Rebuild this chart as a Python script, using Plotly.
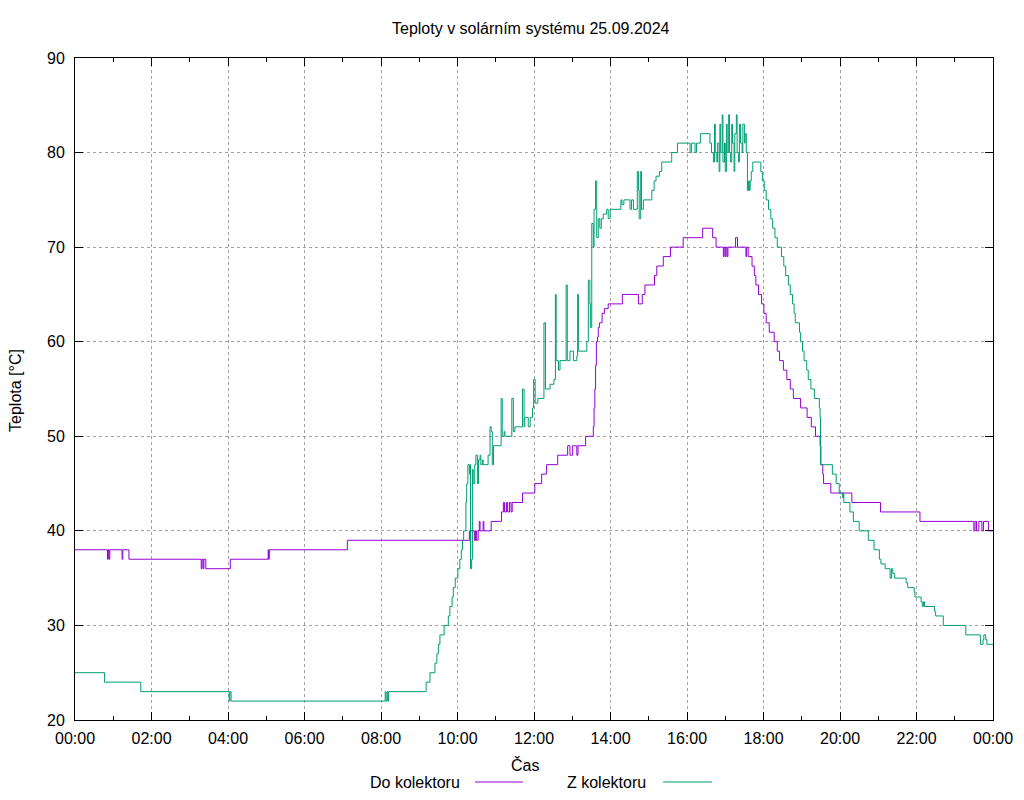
import pandas as pd
import plotly.graph_objects as go

# ---- data (decimal hour of change, temperature after change) ----
do_hours = [0, 0.85, 0.87, 0.89, 0.91, 1.23, 1.25, 1.41, 3.30, 3.32, 3.35, 3.37, 3.42, 4.06,
            5.05, 5.06, 5.08, 7.12, 10.31, 10.44, 10.47, 10.50, 10.54, 10.57, 10.59, 10.67,
            10.69, 10.88, 11.15, 11.20, 11.23, 11.28, 11.31, 11.36, 11.40, 11.43, 11.70, 12.02,
            12.20, 12.33, 12.62, 12.88, 12.94, 13.01, 13.12, 13.15, 13.35, 13.55, 13.57, 13.59,
            13.61, 13.63, 13.66, 13.68, 13.71, 13.78, 13.84, 13.94, 14.31, 14.73, 14.83, 14.90,
            15.15, 15.21, 15.38, 15.57, 15.90, 16.41, 16.67, 16.76, 16.95, 16.97, 17.00, 17.02,
            17.05, 17.07, 17.27, 17.32, 17.54, 17.56, 17.60, 17.70, 17.76, 17.80, 17.87, 17.95,
            18.01, 18.07, 18.15, 18.28, 18.36, 18.42, 18.52, 18.61, 18.70, 18.78, 18.97, 19.14,
            19.25, 19.36, 19.48, 19.50, 19.55, 19.57, 19.76, 20.31, 21.06, 22.09, 23.50, 23.53,
            23.57, 23.63, 23.71, 23.75, 23.88, 24.0]
do_temps = [38, 37, 38, 37, 38, 37, 38, 37, 36, 37, 36, 37, 36, 37,
            38, 37, 38, 39, 40, 39, 40, 39, 40, 41, 40, 41,
            40, 41, 42, 43, 42, 43, 42, 43, 42, 43, 44, 45,
            46, 47, 48, 49, 48, 49, 48, 49, 50, 51, 53, 55,
            57.5, 60, 60.5, 61.5, 62, 63, 63.5, 64, 65, 64, 65, 66,
            67, 68, 69, 70, 71, 72, 71, 70, 69, 70, 69, 70,
            69, 70, 71, 70, 69, 70, 69, 68, 67, 66, 65, 64,
            63, 62, 61, 60, 59, 58, 57, 56, 55, 54, 53, 52,
            51, 50, 49, 47, 46, 45, 44, 43, 42, 41, 40, 41,
            40, 41, 40, 41, 40, 40]

z_hours = [0, 0.77, 1.72, 4.03, 4.05, 4.08, 8.11, 8.13, 8.16, 8.18, 8.20, 9.18, 9.28, 9.41,
           9.46, 9.50, 9.54, 9.65, 9.76, 9.80, 9.86, 9.89, 9.94, 10.01, 10.06, 10.10, 10.13,
           10.16, 10.22, 10.24, 10.27, 10.31, 10.33, 10.34, 10.37, 10.39, 10.41, 10.45, 10.48,
           10.52, 10.55, 10.59, 10.61, 10.65, 10.67, 10.80, 10.85, 10.88, 10.91, 10.94, 11.14,
           11.17, 11.22, 11.24, 11.42, 11.46, 11.50, 11.70, 11.74, 11.76, 11.85, 11.90, 11.96,
           11.99, 12.03, 12.10, 12.26, 12.30, 12.42, 12.52, 12.56, 12.58, 12.64, 12.68, 12.84,
           12.87, 12.94, 13.03, 13.12, 13.14, 13.16, 13.38, 13.42, 13.46, 13.48, 13.51, 13.55,
           13.57, 13.61, 13.64, 13.68, 13.72, 13.76, 13.81, 13.90, 13.94, 13.99, 14.27, 14.30,
           14.35, 14.51, 14.55, 14.60, 14.70, 14.73, 14.75, 14.79, 14.81, 14.86, 15.08, 15.14,
           15.19, 15.28, 15.34, 15.60, 15.75, 16.08, 16.12, 16.21, 16.25, 16.35, 16.60, 16.64,
           16.69, 16.72, 16.74, 16.78, 16.80, 16.84, 16.86, 16.88, 16.92, 16.94, 16.98, 17.00,
           17.03, 17.05, 17.09, 17.11, 17.14, 17.17, 17.19, 17.23, 17.25, 17.29, 17.31, 17.35,
           17.37, 17.40, 17.44, 17.46, 17.50, 17.52, 17.55, 17.58, 17.61, 17.63, 17.65, 17.68,
           17.72, 17.93, 17.97, 18.02, 18.07, 18.13, 18.19, 18.24, 18.30, 18.36, 18.47, 18.53,
           18.58, 18.65, 18.70, 18.76, 18.80, 18.83, 18.94, 18.97, 19.02, 19.06, 19.13, 19.17,
           19.24, 19.33, 19.46, 19.48, 19.49, 19.80, 19.90, 19.98, 20.06, 20.09, 20.10, 20.26,
           20.35, 20.50, 20.74, 20.89, 21.03, 21.07, 21.18, 21.31, 21.35, 21.38, 21.43, 21.73,
           21.77, 21.94, 21.96, 22.12, 22.15, 22.18, 22.21, 22.47, 22.50, 22.70, 23.29, 23.67,
           23.74, 23.76, 23.81, 23.84, 24.0]
z_temps = [25, 24, 23, 22, 23, 22, 23, 22, 23, 22, 23, 24, 25, 26,
           27, 28, 29, 30, 31, 32, 33, 34, 35, 36, 37, 38, 39,
           40, 43, 45, 47, 46, 47, 36, 37, 46.5, 45, 47, 48,
           45, 47.5, 48, 47, 47.5, 47, 48, 51, 50.5, 47, 49, 54,
           50, 50.5, 50, 54, 50.5, 51, 55, 51, 52, 51, 52, 53,
           56, 53.5, 54, 62, 55, 55.5, 56, 65, 58, 57, 58, 66,
           58, 59, 58, 58.5, 65, 59, 60, 66.5, 64, 61.5, 72.5, 70,
           74, 77, 71, 73, 72, 73, 73.5, 74, 73, 74, 75, 74.5,
           75, 74, 75, 74, 78, 76, 73, 78, 74, 75, 76, 77,
           77.5, 78, 79, 80, 81, 80, 81, 80, 81, 82, 81, 80,
           79, 83, 80, 79, 81, 78, 83, 80, 84, 79, 81, 78,
           83, 80, 84, 80, 79, 83, 81, 78, 82, 84, 80, 79,
           83, 81, 80, 83, 81, 82, 80, 76, 77, 76, 77, 78,
           79, 78, 77, 76, 75, 74, 73, 72, 71, 70, 69, 68,
           67, 66, 65, 64, 63, 62, 61, 60, 59, 58, 57, 56,
           55, 54, 53, 52, 47, 46, 45, 44, 43.5, 44, 43, 42,
           41, 40, 39, 38, 37, 36.5, 36, 35, 36, 35.5, 35, 34.5,
           34, 33.5, 33, 32.5, 32, 32.5, 32, 31.5, 31, 30, 29, 28,
           28.5, 29, 28.5, 28, 28]

series_names = ["Do kolektoru", "Z kolektoru"]
series_colors = ["#9400D3", "#009E73"]
title_text = "Teploty v solárním systému 25.09.2024"
y_title = "Teplota [°C]"
x_title = "Čas"

base = pd.Timestamp("2024-09-25")
def to_time(hours):
    return [base + pd.to_timedelta(h, unit="h") for h in hours]

FONT = "Liberation Sans, Arial, sans-serif"
FS = 16

fig = go.Figure()
fig.add_trace(go.Scatter(x=to_time(do_hours), y=do_temps, mode="lines", line_shape="hv",
                         line=dict(color=series_colors[0], width=1), name=series_names[0]))
fig.add_trace(go.Scatter(x=to_time(z_hours), y=z_temps, mode="lines", line_shape="hv",
                         line=dict(color=series_colors[1], width=1), name=series_names[1]))

fig.update_layout(
    width=1024, height=800,
    margin=dict(l=75, r=31, t=58, b=80),
    paper_bgcolor="white", plot_bgcolor="white",
    font=dict(family=FONT, size=FS, color="black"),
    showlegend=False,
)
fig.update_xaxes(
    type="date", automargin=False,
    range=[base, base + pd.Timedelta(hours=24)],
    tickformat="%H:%M", dtick=2 * 3600000, tick0=base,
    ticks="inside", ticklen=8, tickcolor="black",
    showline=True, linecolor="black", linewidth=1, mirror="ticks",
    showgrid=True, gridcolor="#a0a0a0", griddash="dot", gridwidth=1,
    minor=dict(dtick=3600000, ticks="inside", ticklen=4, tickcolor="black", showgrid=False),
    tickfont=dict(size=FS), zeroline=False, ticklabelstandoff=4,
)
fig.update_yaxes(
    automargin=False,
    range=[20, 90], dtick=10, tick0=20,
    ticks="inside", ticklen=8, tickcolor="black",
    showline=True, linecolor="black", linewidth=1, mirror="ticks",
    showgrid=True, gridcolor="#a0a0a0", griddash="dot", gridwidth=1,
    tickfont=dict(size=FS), zeroline=False, ticklabelstandoff=6,
)

ann = []
ann.append(dict(text=title_text, x=0.4967, y=1.0453, xref="paper", yref="paper",
                showarrow=False, xanchor="center", yanchor="middle", font=dict(size=FS)))
ann.append(dict(text=y_title, x=-0.0643, y=0.4985, xref="paper", yref="paper", textangle=-90,
                showarrow=False, xanchor="center", yanchor="middle", font=dict(size=FS)))
ann.append(dict(text=x_title, x=0.490, y=-0.068, xref="paper", yref="paper",
                showarrow=False, xanchor="center", yanchor="middle", font=dict(size=FS)))
legend_text_x = [0.4216, 0.6242]
legend_line_x = [(0.4357, 0.4880), (0.6405, 0.6939)]
leg_y = -0.0937
shapes = []
for name, col, tx, (lx0, lx1) in zip(series_names, series_colors, legend_text_x, legend_line_x):
    ann.append(dict(text=name, x=tx, y=leg_y, xref="paper", yref="paper",
                    showarrow=False, xanchor="right", yanchor="middle", font=dict(size=FS)))
    shapes.append(dict(type="line", xref="paper", yref="paper", x0=lx0, x1=lx1, y0=leg_y, y1=leg_y,
                       line=dict(color=col, width=1)))
fig.update_layout(annotations=ann, shapes=shapes)

fig.write_html("out.html", config={"displayModeBar": False},
               post_script="document.body.style.margin='0px';")
